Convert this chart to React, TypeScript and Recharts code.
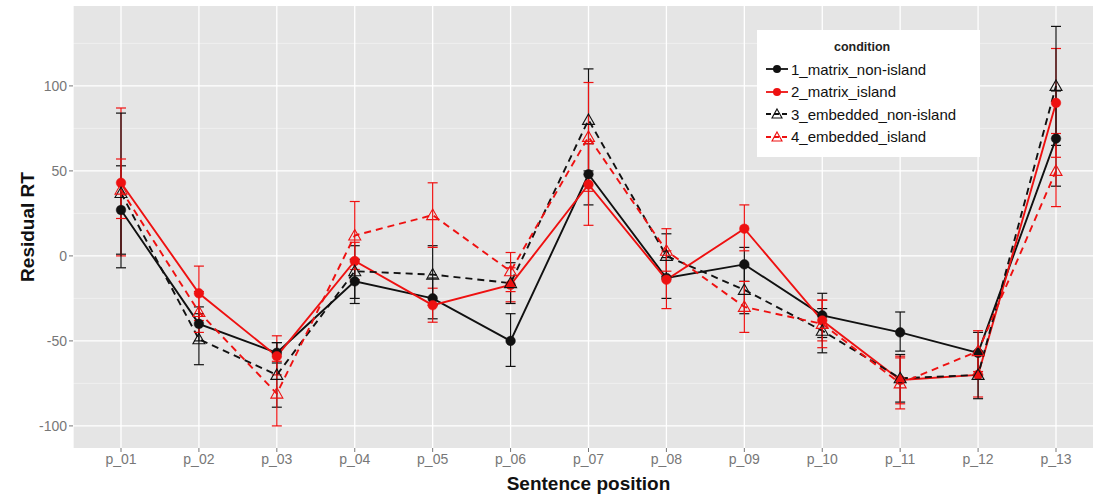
import React from "react";
import {
  ComposedChart,
  Line,
  XAxis,
  YAxis,
  CartesianGrid,
  ErrorBar,
  Legend,
} from "recharts";

const positions = ["p_01","p_02","p_03","p_04","p_05","p_06","p_07","p_08","p_09","p_10","p_11","p_12","p_13"];

const seriesNames = ["1_matrix_non-island","2_matrix_island","3_embedded_non-island","4_embedded_island"];

// 1_matrix_non-island
const s1Mean = [27, -40, -57, -15, -25, -50, 48, -13, -5, -35, -45, -57, 69];
const s1Low = [1, -50, -63, -28, -37, -65, 30, -25, -15, -48, -56, -70, 41];
const s1High = [53, -30, -51, -2, -13, -34, 66, -1, 5, -22, -33, -45, 97];
// 2_matrix_island
const s2Mean = [43, -22, -59, -3, -29, -17, 42, -14, 16, -38, -73, -70, 90];
const s2Low = [0, -38, -70, -14, -39, -27, 18, -31, 3, -50, -87, -83, 58];
const s2High = [87, -6, -47, 8, -19, -7, 66, 3, 30, -26, -59, -57, 122];
// 3_embedded_non-island
const s3Mean = [37, -49, -70, -9, -11, -16, 80, 0, -20, -44, -72, -70, 100];
const s3Low = [-7, -64, -89, -25, -29, -28, 50, -12, -34, -57, -86, -84, 65];
const s3High = [84, -34, -51, 6, 6, -4, 110, 13, -6, -31, -58, -56, 135];
// 4_embedded_island
const s4Mean = [39, -33, -81, 12, 24, -9, 70, 3, -30, -40, -75, -56, 50];
const s4Low = [22, -45, -100, -8, 5, -21, 38, -9, -45, -54, -90, -68, 29];
const s4High = [57, -21, -62, 32, 43, 2, 102, 16, -15, -26, -60, -44, 72];

const majorTicks = [-100, -50, 0, 50, 100];
const minorTicks = [-75, -25, 25, 75, 125];

const BLACK = "#111111";
const RED = "#EE1111";

const seriesDefs = [
  { key: "s1", name: seriesNames[0], mean: s1Mean, low: s1Low, high: s1High, color: BLACK, dashed: false, shape: "circle" },
  { key: "s2", name: seriesNames[1], mean: s2Mean, low: s2Low, high: s2High, color: RED, dashed: false, shape: "circle" },
  { key: "s3", name: seriesNames[2], mean: s3Mean, low: s3Low, high: s3High, color: BLACK, dashed: true, shape: "triangle" },
  { key: "s4", name: seriesNames[3], mean: s4Mean, low: s4Low, high: s4High, color: RED, dashed: true, shape: "triangle" },
];

const data = positions.map((p, i) => {
  const row: any = { pos: p };
  seriesDefs.forEach((s) => {
    row[s.key] = s.mean[i];
    row[s.key + "_err"] = [s.mean[i] - s.low[i], s.high[i] - s.mean[i]];
  });
  return row;
});

const FONT = "'Liberation Sans', Arial, sans-serif";

function makeDot(shape: string, color: string) {
  return (props: any) => {
    const { cx, cy, index } = props;
    if (cx == null || cy == null) return <g key={"d" + index} />;
    if (shape === "circle") {
      return <circle key={"d" + index} cx={cx} cy={cy} r={4.8} fill={color} stroke={color} strokeWidth={0.5} />;
    }
    const s = 6;
    const d = `M${cx},${cy - s} L${cx + s},${cy + s * 0.75} L${cx - s},${cy + s * 0.75} Z`;
    return <path key={"d" + index} d={d} fill="none" stroke={color} strokeWidth={1.1} />;
  };
}

function LegendKey({ shape, color, dashed }: any) {
  return (
    <svg width={24} height={16} style={{ display: "block" }}>
      <line x1={1} y1={8} x2={23} y2={8} stroke={color} strokeWidth={1.8} strokeDasharray={dashed ? "5 3" : undefined} />
      {shape === "circle" ? (
        <circle cx={12} cy={8} r={4} fill={color} />
      ) : (
        <path d="M12,3 L17,12 L7,12 Z" fill="none" stroke={color} strokeWidth={1.1} />
      )}
    </svg>
  );
}

function LegendContent() {
  return (
    <div
      style={{
        background: "#ffffff",
        width: 223,
        height: 127,
        boxSizing: "border-box",
        paddingTop: 10,
        paddingLeft: 8,
        fontFamily: FONT,
      }}
    >
      <div style={{ fontWeight: "bold", fontSize: 12.5, textAlign: "left", paddingLeft: 69, color: "#222", height: 18 }}>
        condition
      </div>
      {seriesDefs.map((s) => (
        <div key={s.key} style={{ display: "flex", alignItems: "center", height: 22.5 }}>
          <LegendKey shape={s.shape} color={s.color} dashed={s.dashed} />
          <span style={{ fontSize: 15, marginLeft: 2, color: "#111" }}>{s.name}</span>
        </div>
      ))}
    </div>
  );
}

const YLabel = (props: any) => {
  const vb = props.viewBox || {};
  const x = (vb.x || 0) + 27;
  const y = (vb.y || 0) + (vb.height || 0) / 2;
  return (
    <text
      x={x}
      y={y}
      transform={`rotate(-90, ${x}, ${y})`}
      textAnchor="middle"
      dominantBaseline="central"
      fontFamily={FONT}
      fontWeight="bold"
      fontSize={19}
      fill="#111"
    >
      Residual RT
    </text>
  );
};

export default function App() {
  return (
    <div style={{ position: "absolute", left: 0, top: 0, width: 1093, height: 495, overflow: "hidden", background: "#fff" }}>
      <ComposedChart
        width={1104}
        height={495}
        data={data}
        margin={{ top: 6, right: 0, bottom: 0, left: 0 }}
        style={{ fontFamily: FONT }}
      >
        <CartesianGrid
          fill="#E5E5E5"
          fillOpacity={1}
          stroke="#F3F3F3"
          strokeWidth={0.7}
          vertical={false}
          horizontalValues={minorTicks}
        />
        <CartesianGrid stroke="#FFFFFF" strokeWidth={1.3} horizontalValues={majorTicks} />
        <XAxis
          dataKey="pos"
          type="category"
          height={47}
          padding={{ left: 48, right: 48 }}
          axisLine={false}
          tickLine={{ stroke: "#777", strokeWidth: 1 }}
          tickSize={4}
          tick={{ fill: "#777", fontSize: 14, fontFamily: FONT }}
          interval={0}
          label={{ value: "Sentence position", position: "insideBottom", offset: 5, fill: "#111", fontWeight: "bold", fontSize: 19, fontFamily: FONT }}
        />
        <YAxis
          type="number"
          domain={[-113, 147]}
          ticks={majorTicks}
          width={73}
          axisLine={false}
          tickLine={{ stroke: "#777", strokeWidth: 1 }}
          tickSize={4}
          tick={{ fill: "#777", fontSize: 14, fontFamily: FONT }}
          allowDataOverflow={true}
          label={<YLabel />}
        />
        {seriesDefs.map((s) => (
          <Line
            key={s.key}
            dataKey={s.key}
            name={s.name}
            type="linear"
            stroke={s.color}
            strokeWidth={1.9}
            strokeDasharray={s.dashed ? "7 5" : undefined}
            dot={makeDot(s.shape, s.color)}
            activeDot={false}
            isAnimationActive={false}
          >
            <ErrorBar dataKey={s.key + "_err"} width={5} strokeWidth={1.2} stroke={s.color} direction="y" />
          </Line>
        ))}
        <Legend
          layout="vertical"
          align="center"
          verticalAlign="middle"
          content={<LegendContent />}
          wrapperStyle={{ position: "absolute", left: 757, top: 30, width: 223, height: 127 }}
        />
      </ComposedChart>
    </div>
  );
}
